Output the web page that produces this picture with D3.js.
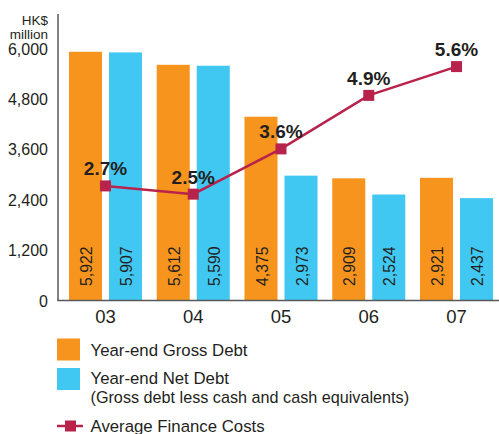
<!DOCTYPE html>
<html><head><meta charset="utf-8">
<script src="https://cdn.jsdelivr.net/npm/d3@7/dist/d3.min.js"></script>
<style>body{margin:0;background:#fff}svg{display:block}text{font-family:"Liberation Sans",Arial,Helvetica,sans-serif;fill:#231f20}</style>
</head><body>
<script>
const years = ["03","04","05","06","07"];
const grossDebt = [5922,5612,4375,2909,2921];
const netDebt = [5907,5590,2973,2524,2437];
const financeCost = [2.7,2.5,3.6,4.9,5.6];
const yTicks = [0,1200,2400,3600,4800,6000];
const legendLabels = ["Year-end Gross Debt","Year-end Net Debt","(Gross debt less cash and cash equivalents)","Average Finance Costs"];

const W=499,H=434;
const orange="#f7941d", blue="#40c8f3", red="#b8234c";
const svg=d3.select("body").append("svg").attr("width",W).attr("height",H);

const x=d3.scaleBand().domain(years).range([61.6,500.4]).paddingInner(0.168).paddingOuter(0.084);
const sub=d3.scaleBand().domain(["g","n"]).range([0,x.bandwidth()]).paddingInner(0.175);
const y=d3.scaleLinear().domain([0,6000]).range([300.5,48.5]);
const y2=d3.scaleLinear().domain([0,7]).range([297,9]);

// bars
const groups=svg.append("g").selectAll("g").data(years).join("g").attr("transform",d=>`translate(${x(d)},0)`);
groups.append("rect").attr("x",sub("g")).attr("width",sub.bandwidth())
  .attr("y",(d,i)=>y(grossDebt[i])).attr("height",(d,i)=>y(0)-y(grossDebt[i])).attr("fill",orange);
groups.append("rect").attr("x",sub("n")).attr("width",sub.bandwidth())
  .attr("y",(d,i)=>y(netDebt[i])).attr("height",(d,i)=>y(0)-y(netDebt[i])).attr("fill",blue);
const fmt=d3.format(",");
[["g",grossDebt],["n",netDebt]].forEach(([k,arr])=>{
  groups.append("text").attr("transform",(d)=>`translate(${sub(k)+sub.bandwidth()/2+1},286) rotate(-90)`)
    .attr("dy","0.36em").attr("font-size","15.8px").text((d,i)=>fmt(arr[i]));
});

// axes
const yAxis=svg.append("g").attr("transform","translate(58,0)")
  .call(d3.axisLeft(y).tickValues(yTicks).tickSize(0).tickPadding(10).tickFormat(fmt));
yAxis.select(".domain").remove();
yAxis.selectAll("text").attr("font-size","16px").attr("fill","#231f20").attr("dy","0.35em");
svg.append("line").attr("x1",58).attr("x2",58).attr("y1",14).attr("y2",y(0)).attr("stroke","#58595b").attr("stroke-width",1.5);
svg.append("line").attr("x1",57.25).attr("x2",W).attr("y1",y(0)).attr("y2",y(0)).attr("stroke","#58595b").attr("stroke-width",1.5);
const xAxis=svg.append("g").attr("transform",`translate(0,${y(0)})`)
  .call(d3.axisBottom(x).tickSize(0).tickPadding(9));
xAxis.select(".domain").remove();
xAxis.selectAll("text").attr("font-size","18.5px").attr("fill","#231f20").attr("dy","0.71em");

svg.append("text").attr("x",48).attr("y",25).attr("text-anchor","end").attr("font-size","13.5px").attr("fill","#4d4d4f").text("HK$");
svg.append("text").attr("x",48).attr("y",38.5).attr("text-anchor","end").attr("font-size","13.5px").attr("fill","#4d4d4f").text("million");

// line
const cx=d=>x(d)+x.bandwidth()/2;
const line=d3.line().x((d,i)=>cx(years[i])).y(d=>y2(d));
svg.append("path").datum(financeCost).attr("d",line).attr("fill","none").attr("stroke",red).attr("stroke-width",2.5);
svg.append("g").selectAll("rect").data(financeCost).join("rect")
  .attr("x",(d,i)=>cx(years[i])-5.5).attr("y",d=>y2(d)-5.5).attr("width",11).attr("height",11).attr("fill",red);
svg.append("g").selectAll("text").data(financeCost).join("text")
  .attr("x",(d,i)=>cx(years[i])).attr("y",d=>y2(d)-10.5).attr("text-anchor","middle")
  .attr("font-size","19px").attr("font-weight","bold").text(d=>d.toFixed(1)+"%");

// legend
svg.append("rect").attr("x",57).attr("y",338.5).attr("width",23).attr("height",22).attr("fill",orange);
svg.append("rect").attr("x",57).attr("y",368).attr("width",23).attr("height",22).attr("fill",blue);
svg.append("line").attr("x1",57).attr("x2",83).attr("y1",426).attr("y2",426).attr("stroke",red).attr("stroke-width",2.5);
svg.append("rect").attr("x",65).attr("y",420.5).attr("width",11).attr("height",11).attr("fill",red);
const ly=[355.5,384,403,431.5], lf=["16.8px","16.8px","16.2px","16.8px"];
legendLabels.forEach((t,i)=>svg.append("text").attr("x",90.5).attr("y",ly[i]).attr("font-size",lf[i]).text(t));
</script>
</body></html>
